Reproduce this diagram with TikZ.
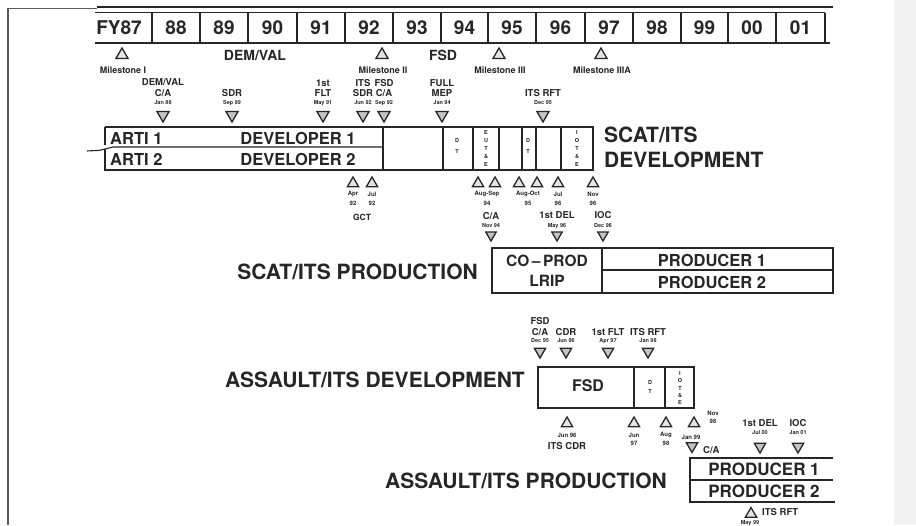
\documentclass[tikz,border=0pt]{standalone}
\usepackage{fontspec}
\setmainfont{TeX Gyre Heros}
\usetikzlibrary{shapes.geometric}
\definecolor{ink}{HTML}{262626}
\definecolor{trifill}{HTML}{C4C4C4}
\tikzset{
  lbl/.style={font=\bfseries\fontsize{9.5}{10}\selectfont, text=ink, inner sep=0},
  msl/.style={font=\bfseries\fontsize{9}{10}\selectfont, text=ink, inner sep=0},
  dlbl/.style={font=\bfseries\fontsize{5.5}{6}\selectfont, text=ink, inner sep=0},
  slbl/.style={font=\bfseries\fontsize{6}{7}\selectfont, text=ink, inner sep=0},
  midlbl/.style={font=\bfseries\fontsize{14}{16}\selectfont, text=ink, inner sep=0},
  biglbl/.style={font=\bfseries\fontsize{21}{24}\selectfont, text=ink, inner sep=0},
  yrlbl/.style={font=\bfseries\fontsize{19}{20}\selectfont, text=ink, inner sep=0},
  barlbl/.style={font=\bfseries\fontsize{16.5}{18}\selectfont, text=ink, inner sep=0},
  vlbl/.style={font=\bfseries\fontsize{5.5}{11}\selectfont, text=ink, inner sep=0, align=center},
  vlblt/.style={font=\bfseries\fontsize{5.5}{7.8}\selectfont, text=ink, inner sep=0, align=center},
  barline/.style={draw=ink, line width=1.6pt},
  divline/.style={draw=ink, line width=1.1pt},
  dtri/.style={regular polygon, regular polygon sides=3, shape border rotate=180, draw=ink, line width=1.3pt, fill=trifill, minimum size=14pt, inner sep=0},
  utri/.style={regular polygon, regular polygon sides=3, draw=ink, line width=1.3pt, fill=trifill!45, minimum size=14pt, inner sep=0},
}
\begin{document}
\begin{tikzpicture}[x=1pt,y=-1pt]
\useasboundingbox (0,0) rectangle (916,525);
\fill[white] (0,0) rectangle (916,525);
\fill[black!5] (894,0) rectangle (916,525);
% frame
\draw[black!65, line width=1.4pt] (8,8) -- (8,525);
\draw[black!65, line width=1pt] (8,8) -- (97,8);
% header
\draw[ink, line width=2.6pt] (97,7) -- (833,7);
\draw[divline] (95,12.5) -- (825,12.5);
\draw[barline] (95,43) -- (830,43);
\foreach \xd in {152,200,248,297,345,393,441,488,536,585,633,681,728,776,825}
  \draw[divline] (\xd,12.5) -- (\xd,43);
\node[yrlbl] (fy87) at (119,27.5) {FY87};
\foreach \xc/\t in {176/88,224/89,272.5/90,321/91,369/92,417/93,464.5/94,512/95,560.5/96,609/97,657/98,704.5/99,752/00,800.5/01}
  \node[yrlbl] (yr\t) at (\xc,27.5) {\t};
% milestones
\node[utri] (ms1) at (122,55) {};
\node[msl] (ms1l) at (123,70) {Milestone I};
\node[midlbl] (demval) at (255,55) {DEM/VAL};
\node[utri] (ms2) at (382,55) {};
\node[msl] (ms2l) at (383,70) {Milestone II};
\node[midlbl] (fsdh) at (443,55) {FSD};
\node[utri] (ms3) at (499,55) {};
\node[msl] (ms3l) at (500,70) {Milestone III};
\node[utri] (ms4) at (601,55) {};
\node[msl] (ms4l) at (602,70) {Milestone IIIA};
% SCAT/ITS development markers (top)
\foreach \xm/\n in {163/a,232/b,323/c,363/d,384/e,442/f,543/g}
  \node[dtri] (top\n) at (\xm,115) {};
\node[lbl] (ta1) at (163,82) {DEM/VAL};
\node[lbl] (ta2) at (163,93) {C/A};
\node[dlbl] (ta3) at (163,103) {Jan 88};
\node[lbl] (tb2) at (232,93) {SDR};
\node[dlbl] (tb3) at (232,103) {Sep 89};
\node[lbl] (tc1) at (323,83) {1st};
\node[lbl] (tc2) at (323,93) {FLT};
\node[dlbl] (tc3) at (323,103) {May 91};
\node[lbl] (td1) at (363,83) {ITS};
\node[lbl] (td2) at (363,93) {SDR};
\node[dlbl] (td3) at (363,103) {Jun 92};
\node[lbl] (te1) at (384,83) {FSD};
\node[lbl] (te2) at (384,93) {C/A};
\node[dlbl] (te3) at (384,103) {Sep 92};
\node[lbl] (tf1) at (442,83) {FULL};
\node[lbl] (tf2) at (442,93) {MEP};
\node[dlbl] (tf3) at (442,103) {Jan 94};
\node[lbl] (tg2) at (543,93) {ITS RFT};
\node[dlbl] (tg3) at (543,103) {Dec 95};
% SCAT/ITS development bar
\draw[barline] (105,127) -- (593,127) -- (593,170) -- (105,170) -- (105,149);
\draw[barline] (105,127) -- (105,145);
\draw[divline] (87,151) -- (100,150.3) -- (113,147) -- (383,147);
\foreach \xd in {383,443,473,499,522,536,561}
  \draw[divline] (\xd,127) -- (\xd,170);
\node[barlbl, anchor=west] (arti1) at (110,138) {ARTI 1};
\node[barlbl, anchor=west] (arti2) at (110,159) {ARTI 2};
\node[barlbl] (dev1) at (298,138) {DEVELOPER 1};
\node[barlbl] (dev2) at (298,159) {DEVELOPER 2};
\node[vlbl] (dt1) at (457,146) {D\\T};
\node[vlblt] (eute) at (486,148.5) {E\\U\\T\\\&\\E};
\node[vlbl] (dt2) at (528,146) {D\\T};
\node[vlblt] (iote1) at (577,148.5) {I\\O\\T\\\&\\E};
\node[biglbl, anchor=west] (scatdev1) at (604,135) {SCAT/ITS};
\node[biglbl, anchor=west] (scatdev2) at (604,160) {DEVELOPMENT};
% markers below development bar
\foreach \xm/\n in {353/a,372/b,478/c,495/d,519/e,537/f,558/g,593/h}
  \node[utri, minimum size=13pt] (bot\n) at (\xm,183.5) {};
\node[slbl] (ba1) at (353,194) {Apr};
\node[slbl] (ba2) at (353,203) {92};
\node[slbl] (bb1) at (372,194) {Jul};
\node[slbl] (bb2) at (372,203) {92};
\node[font=\bfseries\fontsize{8.5}{9}\selectfont, text=ink, inner sep=0] (gct) at (362,217) {GCT};
\node[slbl] (bc1) at (487,194) {Aug-Sep};
\node[slbl] (bc2) at (487,203) {94};
\node[slbl] (be1) at (528,194) {Aug-Oct};
\node[slbl] (be2) at (528,203) {95};
\node[slbl] (bg1) at (558,194) {Jul};
\node[slbl] (bg2) at (558,203) {96};
\node[slbl] (bh1) at (593,194) {Nov};
\node[slbl] (bh2) at (593,203) {96};
% SCAT/ITS production markers
\node[lbl] (pa1) at (491,216) {C/A};
\node[dlbl] (pa2) at (491,226) {Nov 94};
\node[dtri, minimum size=12pt] (pa) at (491,235) {};
\node[lbl] (pb1) at (557,215) {1st DEL};
\node[dlbl] (pb2) at (557,226) {May 96};
\node[dtri, minimum size=12pt] (pb) at (557,235) {};
\node[lbl] (pc1) at (603,215) {IOC};
\node[dlbl] (pc2) at (603,226) {Dec 96};
\node[dtri, minimum size=12pt] (pc) at (603,235) {};
% SCAT/ITS production bar
\node[biglbl, anchor=east] (scatprod) at (478,272) {SCAT/ITS PRODUCTION};
\draw[barline] (492,248) rectangle (833,293);
\draw[divline] (602,248) -- (602,293);
\draw[divline] (602,270) -- (833,270);
\node[barlbl, font=\bfseries\fontsize{15.5}{17}\selectfont] (coprod) at (547,261) {CO\,--\,PROD};
\node[barlbl, font=\bfseries\fontsize{15.5}{17}\selectfont] (lrip) at (547,281) {LRIP};
\node[barlbl] (sprod1) at (712,260) {PRODUCER 1};
\node[barlbl] (sprod2) at (712,282) {PRODUCER 2};
% Assault/ITS development markers
\foreach \xm/\n in {540/a,566/b,608/c,648/d}
  \node[dtri, minimum size=13pt] (at\n) at (\xm,351.5) {};
\node[lbl] (ata0) at (540,321) {FSD};
\node[lbl] (ata1) at (540,332) {C/A};
\node[dlbl] (ata2) at (540,341) {Dec 95};
\node[lbl] (atb1) at (566,332) {CDR};
\node[dlbl] (atb2) at (566,341) {Jun 96};
\node[lbl] (atc1) at (608,332) {1st FLT};
\node[dlbl] (atc2) at (608,341) {Apr 97};
\node[lbl] (atd1) at (648,332) {ITS RFT};
\node[dlbl] (atd2) at (648,341) {Jan 98};
% Assault/ITS development bar
\node[biglbl, anchor=east] (adev) at (525,380) {ASSAULT/ITS DEVELOPMENT};
\draw[barline] (538,367) rectangle (694,408);
\draw[divline] (634,367) -- (634,408);
\draw[divline] (665,367) -- (665,408);
\node[barlbl, font=\bfseries\fontsize{16}{18}\selectfont] (afsd) at (588,386) {FSD};
\node[font=\bfseries\fontsize{5.5}{9}\selectfont, text=ink, inner sep=0, align=center] (adt) at (650,387) {D\\T};
\node[font=\bfseries\fontsize{5.5}{7.4}\selectfont, text=ink, inner sep=0, align=center] (aiote) at (680,388) {I\\O\\T\\\&\\E};
% markers below assault development bar
\foreach \xm/\n in {567/a,634/b,666/c,694/d}
  \node[utri, minimum size=13pt] (ab\n) at (\xm,423.5) {};
\node[slbl] (aba1) at (567,435) {Jun 96};
\node[lbl] (aba2) at (567,446) {ITS CDR};
\node[slbl] (abb1) at (634,435) {Jun};
\node[slbl] (abb2) at (634,443) {97};
\node[slbl] (abc1) at (666,435) {Aug};
\node[slbl] (abc2) at (666,443) {98};
\node[slbl] (abd1) at (713,413) {Nov};
\node[slbl] (abd2) at (713,421) {98};
\node[slbl] (abe1) at (691,437) {Jan 99};
\node[dtri, minimum size=13pt] (abe) at (692,446) {};
\node[lbl, anchor=west] (abe2) at (703,450) {C/A};
% Assault/ITS production markers
\node[lbl] (apa1) at (760,423) {1st DEL};
\node[dlbl] (apa2) at (760,433) {Jul 00};
\node[dtri, minimum size=13pt] (apa) at (760,446.5) {};
\node[lbl] (apb1) at (798,423) {IOC};
\node[dlbl] (apb2) at (798,433) {Jan 01};
\node[dtri, minimum size=13pt] (apb) at (798,446.5) {};
% Assault/ITS production bar
\node[biglbl, anchor=east] (aprod) at (667,481) {ASSAULT/ITS PRODUCTION};
\draw[barline] (833,458) -- (690,458) -- (690,502) -- (835,502);
\draw[divline] (690,480) -- (833,480);
\node[barlbl, font=\bfseries\fontsize{17}{19}\selectfont] (aprod1) at (764,469) {PRODUCER 1};
\node[barlbl, font=\bfseries\fontsize{17}{19}\selectfont] (aprod2) at (764,491) {PRODUCER 2};
\node[utri, minimum size=13pt] (apc) at (751,514) {};
\node[lbl, anchor=west] (apc1) at (762,512) {ITS RFT};
\node[dlbl] (apc2) at (750,523.5) {May 99};
\end{tikzpicture}
\end{document}
